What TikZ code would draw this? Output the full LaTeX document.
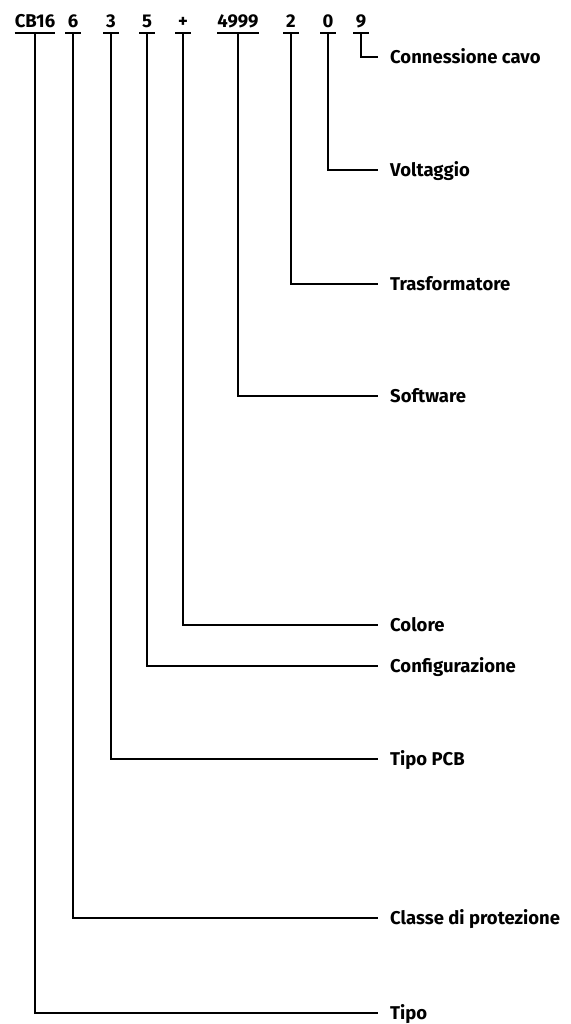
\documentclass[tikz,border=0pt]{standalone}
\usepackage{fontspec}
\setmainfont{Fira Sans}
\usepackage{tikz}

\begin{document}
\begin{tikzpicture}[
        x=1pt, y=-1pt,
        code/.style = {font=\bfseries\fontsize{18.5}{22}\selectfont, anchor=base, inner xsep=0pt, inner ysep=4.5pt, text depth=0pt, minimum width=15pt},
        item/.style = {font=\bfseries\fontsize{18.5}{22}\selectfont, anchor=west, inner xsep=12pt, inner ysep=0pt, text height=13pt, text depth=0pt},
        bar/.style = {line width=2pt},
        link/.style = {line width=1.2pt}
    ]
    \useasboundingbox (0,0) rectangle (570,1024);

    % Code parts along the top
    \node[code] (cb) at (35,28) {CB16};
    \node[code] (prot) at (73,28) {6};
    \node[code] (pcb) at (111,28) {3};
    \node[code] (conf) at (147,28) {5};
    \node[code] (col) at (183,28) {+};
    \node[code] (soft) at (238,28) {4999};
    \node[code] (trafo) at (291,28) {2};
    \node[code] (volt) at (328,28) {0};
    \node[code] (cavo) at (361,28) {9};

    % Underlines
    \foreach \n in {cb,prot,pcb,conf,col,soft,trafo,volt,cavo}
        \draw[bar] (\n.south west) -- (\n.south east);

    % Descriptions on the right
    \node[item] (cavot) at (378,57) {Connessione cavo};
    \node[item] (voltt) at (378,170) {Voltaggio};
    \node[item] (trafot) at (378,284) {Trasformatore};
    \node[item] (softt) at (378,396) {Software};
    \node[item] (colt) at (378,625) {Colore};
    \node[item] (conft) at (378,666) {Configurazione};
    \node[item] (pcbt) at (378,759) {Tipo PCB};
    \node[item] (prott) at (378,918) {Classe di protezione};
    \node[item] (cbt) at (378,1013) {Tipo};

    % Connect each part to its description
    \draw[link] (cavo.south) |- (cavot.west);
    \draw[link] (volt.south) |- (voltt.west);
    \draw[link] (trafo.south) |- (trafot.west);
    \draw[link] (soft.south) |- (softt.west);
    \draw[link] (col.south) |- (colt.west);
    \draw[link] (conf.south) |- (conft.west);
    \draw[link] (pcb.south) |- (pcbt.west);
    \draw[link] (prot.south) |- (prott.west);
    \draw[link] (cb.south) |- (cbt.west);

\end{tikzpicture}
\end{document}
